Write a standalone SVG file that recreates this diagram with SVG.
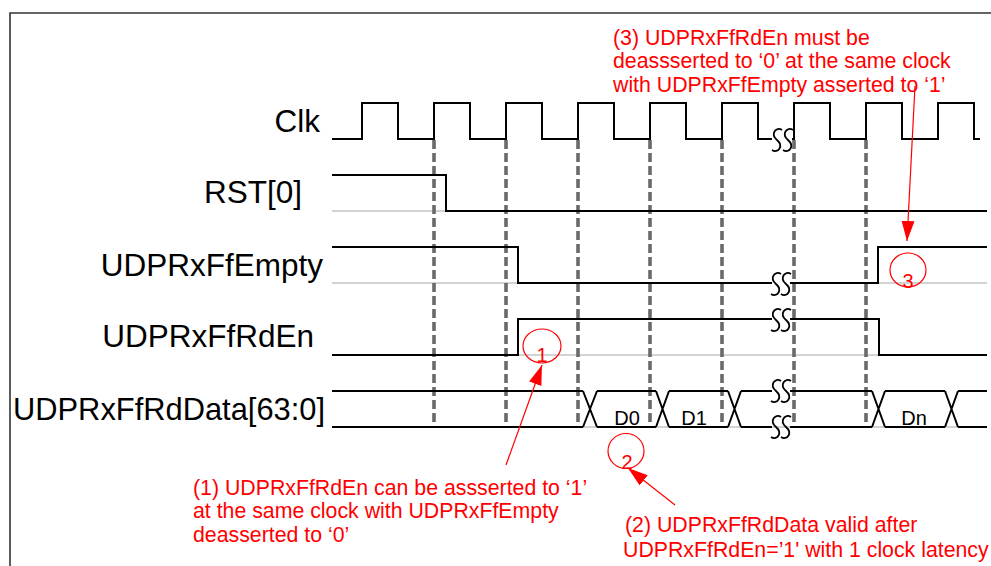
<svg xmlns="http://www.w3.org/2000/svg" xmlns:xlink="http://www.w3.org/1999/xlink" width="991" height="566" viewBox="0 0 991 566">
<style>
.lbl{font-family:"Liberation Sans",Arial,sans-serif;font-size:31.5px;fill:#000;text-anchor:end}
.note{font-family:"Liberation Sans",Arial,sans-serif;font-size:21.3px;fill:#ff0000}
.num{font-family:"Liberation Sans",Arial,sans-serif;font-size:20px;fill:#ff0000;text-anchor:middle}
.dat{font-family:"Liberation Sans",Arial,sans-serif;font-size:20px;fill:#000;text-anchor:middle}
.sig{fill:none;stroke:#000;stroke-width:2}
.base{fill:none;stroke:#c4c4c4;stroke-width:1.5}
.dash{fill:none;stroke:#6a6a6a;stroke-width:3.6;stroke-dasharray:9 4}
.sq{fill:none;stroke:#000;stroke-width:1.8}
.red{fill:none;stroke:#ff0000;stroke-width:1.2}
</style>
<defs>
<path id="sq" d="M5,-10 C-1,-14 -7,-6 0,0 C7,6 1,14 -5,10" class="sq"/>
<marker id="ah" viewBox="0 0 20 13" refX="20" refY="6.5" markerWidth="20" markerHeight="13" markerUnits="userSpaceOnUse" orient="auto">
<path d="M0,0 L20,6.5 L0,13 z" fill="#ff0000"/>
</marker>
</defs>
<g id="frame">
<path d="M10,566 V13 H991" fill="none" stroke="#333" stroke-width="1.6"/>
</g>
<g id="labels">
<text class="lbl" x="320" y="132">Clk</text>
<text class="lbl" x="302" y="203">RST[0]</text>
<text class="lbl" x="323" y="276">UDPRxFfEmpty</text>
<text class="lbl" x="314" y="347">UDPRxFfRdEn</text>
<text class="lbl" x="325" y="420" textLength="312" lengthAdjust="spacingAndGlyphs">UDPRxFfRdData[63:0]</text>
</g>
<g id="baselines">
<path class="base" d="M332,211 H987"/>
<path class="base" d="M332,283 H772 M790,283 H987"/>
<path class="base" d="M332,355 H987"/>
<path class="base" d="M332,427 H987"/>
</g>
<g id="clock-grid">
<path class="dash" d="M434,140 V428 M506,140 V428 M578,140 V428 M650,140 V428 M722,140 V428 M794,140 V428 M866,140 V428"/>
</g>
<g id="Clk">
<path class="sig" d="M332,139 H362 V103 H398 V139 H434 V103 H470 V139 H506 V103 H542 V139 H578 V103 H614 V139 H650 V103 H686 V139 H722 V103 H758 V139 H772"/>
<path class="sig" d="M792,139 H794 V103 H830 V139 H866 V103 H902 V139 H938 V103 H974 V139 H980"/>
<use xlink:href="#sq" x="777" y="140"/>
<use xlink:href="#sq" x="788" y="140"/>
</g>
<g id="RST">
<path class="sig" d="M332,175 H446 V211 H987"/>
</g>
<g id="UDPRxFfEmpty">
<path class="sig" d="M332,247 H518 V283 H772"/>
<path class="sig" d="M790,283 H878 V247 H987"/>
<use xlink:href="#sq" x="776" y="284"/>
<use xlink:href="#sq" x="786" y="284"/>
</g>
<g id="UDPRxFfRdEn">
<path class="sig" d="M332,355 H518 V319 H772"/>
<path class="sig" d="M790,319 H879 V355 H987"/>
<use xlink:href="#sq" x="776" y="320"/>
<use xlink:href="#sq" x="786" y="320"/>
</g>
<g id="UDPRxFfRdData">
<path class="sig" d="M332,391 H583 M597,391 H656 M669,391 H728 M741,391 H772 M790,391 H872 M885,391 H945 M958,391 H987"/>
<path class="sig" d="M332,427 H583 M597,427 H656 M669,427 H728 M741,427 H772 M790,427 H872 M885,427 H945 M958,427 H987"/>
<path class="sig" d="M583,391 L597,427 M583,427 L597,391 M656,391 L669,427 M656,427 L669,391 M728,391 L741,427 M728,427 L741,391 M872,391 L885,427 M872,427 L885,391 M945,391 L958,427 M945,427 L958,391"/>
<use xlink:href="#sq" x="776" y="391"/>
<use xlink:href="#sq" x="786" y="391"/>
<use xlink:href="#sq" x="776" y="427"/>
<use xlink:href="#sq" x="786" y="427"/>
<text class="dat" x="627" y="425">D0</text>
<text class="dat" x="694" y="425">D1</text>
<text class="dat" x="914" y="425">Dn</text>
</g>
<g id="connectors">
<line class="red" x1="506" y1="465" x2="542" y2="365" marker-end="url(#ah)"/>
<line class="red" x1="675" y1="505" x2="628" y2="468" marker-end="url(#ah)"/>
<line class="red" x1="915" y1="86" x2="907" y2="241" marker-end="url(#ah)"/>
</g>
<g id="mark1">
<ellipse class="red" cx="542" cy="346" rx="19" ry="17"/>
<text class="num" x="542" y="362">1</text>
</g>
<g id="mark2">
<ellipse class="red" cx="626" cy="451" rx="18" ry="17.5"/>
<text class="num" x="627" y="469">2</text>
</g>
<g id="mark3">
<ellipse class="red" cx="908" cy="270" rx="18" ry="17"/>
<text class="num" x="908" y="288">3</text>
</g>
<g id="note1">
<text class="note" x="193" y="495">(1) UDPRxFfRdEn can be assserted to ‘1’</text>
<text class="note" x="193" y="518">at the same clock with UDPRxFfEmpty</text>
<text class="note" x="193" y="542">deasserted to ‘0’</text>
</g>
<g id="note2">
<text class="note" x="625" y="532">(2) UDPRxFfRdData valid after</text>
<text class="note" x="623" y="557">UDPRxFfRdEn=’1' with 1 clock latency</text>
</g>
<g id="note3">
<text class="note" x="613" y="45">(3) UDPRxFfRdEn must be</text>
<text class="note" x="613" y="68">deassserted to ‘0’ at the same clock</text>
<text class="note" x="613" y="92">with UDPRxFfEmpty asserted to ‘1’</text>
</g>
</svg>
